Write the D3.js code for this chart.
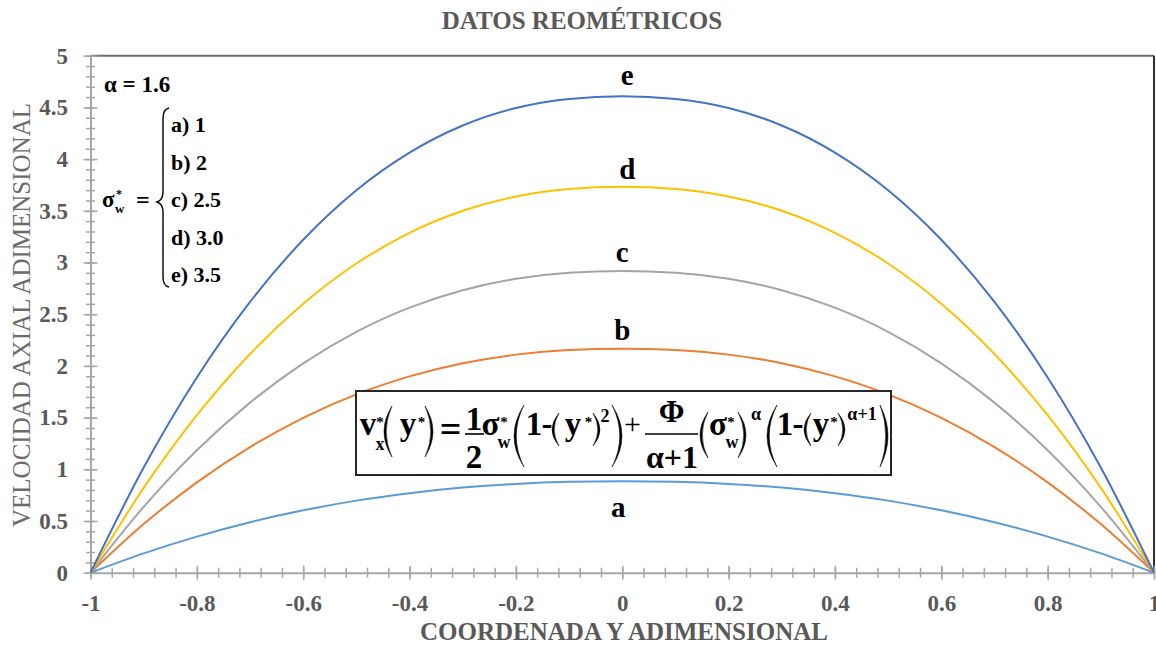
<!DOCTYPE html>
<html lang="es">
<head>
<meta charset="utf-8">
<title>Datos reometricos</title>
<script src="https://cdn.jsdelivr.net/npm/d3@7"></script>
<style>
  body { margin: 0; background: #fff; }
  text { font-family: "Liberation Serif", "Times New Roman", serif; }
</style>
</head>
<body>
<script>
// ---- data ----
var yCoord = [-1, -0.9, -0.8, -0.7, -0.6, -0.5, -0.4, -0.3, -0.2, -0.1, 0, 0.1, 0.2, 0.3, 0.4, 0.5, 0.6, 0.7, 0.8, 0.9, 1]
var serieA = [0, 0.187, 0.349, 0.488, 0.603, 0.697, 0.769, 0.823, 0.859, 0.879, 0.885, 0.879, 0.859, 0.823, 0.769, 0.697, 0.603, 0.488, 0.349, 0.187, 0]
var serieB = [0, 0.470, 0.874, 1.215, 1.498, 1.725, 1.899, 2.026, 2.109, 2.154, 2.167, 2.154, 2.109, 2.026, 1.899, 1.725, 1.498, 1.215, 0.874, 0.470, 0]
var serieC = [0, 0.637, 1.184, 1.645, 2.025, 2.330, 2.563, 2.732, 2.842, 2.900, 2.917, 2.900, 2.842, 2.732, 2.563, 2.330, 2.025, 1.645, 1.184, 0.637, 0]
var serieD = [0, 0.820, 1.523, 2.115, 2.601, 2.990, 3.287, 3.500, 3.639, 3.712, 3.733, 3.712, 3.639, 3.500, 3.287, 2.990, 2.601, 2.115, 1.523, 0.820, 0]
var serieE = [0, 1.017, 1.888, 2.619, 3.220, 3.699, 4.063, 4.325, 4.494, 4.582, 4.607, 4.582, 4.494, 4.325, 4.063, 3.699, 3.220, 2.619, 1.888, 1.017, 0]
var curveNames = ['a', 'b', 'c', 'd', 'e']
var sigmaValues = ['1', '2', '2.5', '3.0', '3.5']
var xTicks = [-1, -0.8, -0.6, -0.4, -0.2, 0, 0.2, 0.4, 0.6, 0.8, 1]
var yTicks = [0, 0.5, 1, 1.5, 2, 2.5, 3, 3.5, 4, 4.5, 5]

var colors = ['#5b9bd5', '#ed7d31', '#a5a5a5', '#ffc000', '#4472c4']
var series = [serieA, serieB, serieC, serieD, serieE]

var W = 1156, H = 645
var svg = d3.select('body').append('svg').attr('width', W).attr('height', H)

var x = d3.scaleLinear().domain([-1, 1]).range([90.5, 1154])
var y = d3.scaleLinear().domain([0, 5]).range([572.7, 55.7])

var grayTxt = '#595959', axisCol = '#a6a6a6'
var serif = '"Liberation Serif", "Times New Roman", serif'

// title
svg.append('text').attr('x', 582).attr('y', 29).attr('text-anchor', 'middle')
	.attr('font-size', 25).attr('font-weight', 'bold').attr('fill', grayTxt)
	.text('DATOS REOMÉTRICOS')

// plot border (top / right)
svg.append('line').attr('x1', x(-1)).attr('x2', x(1)).attr('y1', y(5)).attr('y2', y(5))
	.attr('stroke', '#6e6e6e').attr('stroke-width', 2)
svg.append('line').attr('x1', x(1)).attr('x2', x(1)).attr('y1', y(5)).attr('y2', y(0))
	.attr('stroke', '#303030').attr('stroke-width', 2)

// minor ticks
var xMinor = d3.range(0, 51).map(function(i) { return -1 + i * 0.04 })
var yMinor = d3.range(0, 51).map(function(i) { return i * 0.1 })

var gxm = svg.append('g').attr('transform', 'translate(0,' + y(0) + ')')
	.call(d3.axisBottom(x).tickValues(xMinor).tickSize(5).tickSizeOuter(0).tickFormat(''))
gxm.selectAll('.tick line').attr('y1', -5).attr('stroke', axisCol).attr('stroke-width', 1.5)
gxm.select('.domain').remove()

var gym = svg.append('g').attr('transform', 'translate(' + x(-1) + ',0)')
	.call(d3.axisLeft(y).tickValues(yMinor).tickSize(4.5).tickSizeOuter(0).tickFormat(''))
gym.selectAll('.tick line').attr('x1', 4.5).attr('stroke', axisCol).attr('stroke-width', 1.5)
gym.select('.domain').remove()

// major axes
var gx = svg.append('g').attr('transform', 'translate(0,' + y(0) + ')')
	.call(d3.axisBottom(x).tickValues(xTicks).tickSize(7).tickSizeOuter(0).tickPadding(15).tickFormat(function(d) { return String(d) }))
gx.selectAll('.tick line').attr('y1', -7).attr('stroke', axisCol).attr('stroke-width', 1.5)
gx.select('.domain').attr('stroke', axisCol).attr('stroke-width', 2)
gx.selectAll('text').attr('font-size', 23).attr('font-weight', 'bold').attr('fill', grayTxt)
	.attr('font-family', serif)

var gy = svg.append('g').attr('transform', 'translate(' + x(-1) + ',0)')
	.call(d3.axisLeft(y).tickValues(yTicks).tickSize(7).tickSizeOuter(0).tickPadding(15.5).tickFormat(function(d) { return String(d) }))
gy.selectAll('.tick line').attr('x1', 7).attr('stroke', axisCol).attr('stroke-width', 1.5)
gy.select('.domain').attr('stroke', axisCol).attr('stroke-width', 2)
gy.selectAll('text').attr('font-size', 23).attr('font-weight', 'bold').attr('fill', grayTxt)
	.attr('font-family', serif)

// axis titles
svg.append('text').attr('x', 624).attr('y', 640).attr('text-anchor', 'middle')
	.attr('font-size', 25).attr('font-weight', 'bold').attr('fill', grayTxt)
	.text('COORDENADA Y ADIMENSIONAL')
svg.append('text').attr('transform', 'translate(30,315) rotate(-90)').attr('text-anchor', 'middle')
	.attr('font-size', 25).attr('fill', '#6b6b6b')
	.text('VELOCIDAD AXIAL ADIMENSIONAL')

// curves
var line = d3.line()
	.x(function(d, i) { return x(yCoord[i]) })
	.y(function(d) { return y(d) })
	.curve(d3.curveMonotoneX)

svg.selectAll('path.serie').data(series).enter().append('path')
	.attr('class', 'serie')
	.attr('d', line)
	.attr('fill', 'none')
	.attr('stroke', function(d, i) { return colors[i] })
	.attr('stroke-width', 2)

// curve labels above each peak (a sits below)
var labelShift = [36, -9, -9, -8, -11]
var labelDx = [-4, 0, 0, 5, 5]
svg.selectAll('text.clabel').data(series).enter().append('text')
	.attr('class', 'clabel')
	.attr('x', function(d, i) { return x(0) + labelDx[i] })
	.attr('y', function(d, i) { return y(d3.max(d)) + labelShift[i] })
	.attr('text-anchor', 'middle')
	.attr('font-size', 29).attr('font-weight', 'bold').attr('fill', '#000')
	.text(function(d, i) { return curveNames[i] })

// legend, top-left
var leg = svg.append('g').attr('font-weight', 'bold').attr('fill', '#000')
leg.append('text').attr('x', 104).attr('y', 92).attr('font-size', 23).text('α = 1.6')
leg.append('text').attr('x', 102).attr('y', 207).attr('font-size', 23).text('σ')
leg.append('text').attr('x', 116).attr('y', 198).attr('font-size', 12).text('*')
leg.append('text').attr('x', 115).attr('y', 213).attr('font-size', 13).text('w')
leg.append('text').attr('x', 136).attr('y', 208).attr('font-size', 24).text('=')
leg.append('path')
	.attr('d', 'M169,108 Q163,109 163,119 L163,192 Q163,200 157,202 Q163,204 163,212 L163,277 Q163,286 169,287')
	.attr('fill', 'none').attr('stroke', '#000').attr('stroke-width', 1.4)
leg.selectAll('text.sig').data(sigmaValues).enter().append('text')
	.attr('class', 'sig')
	.attr('x', 171)
	.attr('y', function(d, i) { return 132 + i * 37.5 })
	.attr('font-size', 22)
	.text(function(d, i) { return curveNames[i] + ') ' + d })

// formula box
var fb = svg.append('g')
fb.append('rect').attr('x', 356).attr('y', 391).attr('width', 535).attr('height', 84)
	.attr('fill', '#fff').attr('stroke', '#262626').attr('stroke-width', 2)

// text centred at cx
function t(cx, py, s, size, bold) {
	fb.append('text').attr('x', cx).attr('y', py).attr('font-size', size).attr('text-anchor', 'middle')
		.attr('font-weight', bold === false ? 'normal' : 'bold').attr('fill', '#000').text(s)
}
function paren(x0, x1, top, bot, open) {
	var mid = (top + bot) / 2, w = x1 - x0, p
	if (open) {
		p = 'M' + x1 + ',' + top + ' Q' + (x0 - w) + ',' + mid + ' ' + x1 + ',' + bot +
			' Q' + (x0 - w + 4.5) + ',' + mid + ' ' + x1 + ',' + top + 'Z'
	} else {
		p = 'M' + x0 + ',' + top + ' Q' + (x1 + w) + ',' + mid + ' ' + x0 + ',' + bot +
			' Q' + (x1 + w - 4.5) + ',' + mid + ' ' + x0 + ',' + top + 'Z'
	}
	fb.append('path').attr('d', p).attr('fill', '#000').attr('stroke', '#000').attr('stroke-width', 0.5)
}
function bar(x0, x1, py) {
	fb.append('line').attr('x1', x0).attr('x2', x1).attr('y1', py).attr('y2', py)
		.attr('stroke', '#000').attr('stroke-width', 1.6)
}

var B = 435, S = 427, M = 33
t(368, B, 'v', M); t(380, S, '*', 15); t(380, 450, 'x', 18)
paren(384, 392, 406, 457, true)
t(408, B, 'y', M); t(421.5, S, '*', 15)
paren(425, 433, 406, 457, false)
t(450.5, 442, '=', 38)
t(474, 430, '1', M); bar(465, 484, 434); t(474, 468, '2', M)
t(490.5, B, 'σ', M); t(504, S, '*', 15); t(504, 448, 'w', 18)
paren(514, 524, 405, 467, true)
t(534, B, '1', M); t(547, B, '-', M)
paren(552, 559, 413, 446, true)
t(573, B, 'y', M); t(588.5, S, '*', 15)
paren(593, 600, 413, 446, false)
t(605, 422, '2', 18)
paren(612, 622, 405, 467, false)
t(632.5, 434, '+', 30, false)
t(671.5, 422, 'Φ', 31); bar(645, 698, 434); t(672, 468, 'α+1', 32)
paren(700, 708, 412, 458, true)
t(718, B, 'σ', M); t(731, S, '*', 15); t(732, 448, 'w', 18)
paren(738, 746, 412, 458, false)
t(756, 420, 'α', 18)
paren(767, 777, 405, 467, true)
t(785, B, '1', M); t(798, B, '-', M)
paren(804, 811, 413, 446, true)
t(821, B, 'y', M); t(834, S, '*', 15)
paren(838, 845, 413, 446, false)
t(862, 420, 'α+1', 18)
paren(880, 888, 405, 467, false)
</script>
</body>
</html>
